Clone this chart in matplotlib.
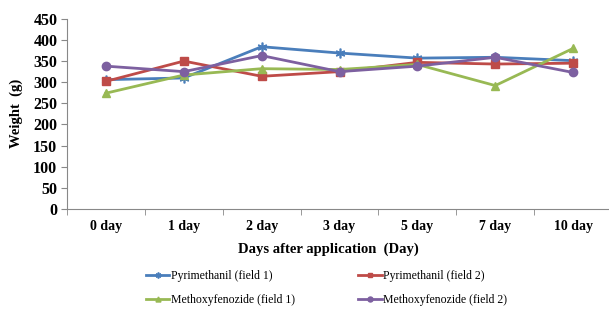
import matplotlib
matplotlib.use("Agg")
import matplotlib.pyplot as plt
import numpy as np

days = ["0 day", "1 day", "2 day", "3 day", "5 day", "7 day", "10 day"]
pyr_f1 = [306, 310, 384, 369, 357, 359, 351]
pyr_f2 = [302, 350, 314, 325, 347, 343, 345]
met_f1 = [274, 317, 332, 330, 342, 292, 380]
met_f2 = [338, 325, 363, 325, 338, 359, 323]
yticks = list(range(0, 451, 50))

plt.rcParams['font.family'] = ['Liberation Serif', 'DejaVu Serif']

fig = plt.figure(figsize=(6.09, 3.09), dpi=100)
ax = fig.add_axes([0.110, 0.324, 0.895, 0.615])
x = np.arange(len(days))

h1, = ax.plot(x, pyr_f1, color='#4A7EBB', lw=2, marker=(6, 2, 0), ms=7, mew=1.2,
              label='Pyrimethanil (field 1)')
h2, = ax.plot(x, pyr_f2, color='#BE4B48', lw=2, marker='s', ms=6,
              label='Pyrimethanil (field 2)')
h3, = ax.plot(x, met_f1, color='#98B954', lw=2, marker='^', ms=6,
              label='Methoxyfenozide (field 1)')
h4, = ax.plot(x, met_f2, color='#7D60A0', lw=2, marker='o', ms=6,
              label='Methoxyfenozide (field 2)')

ax.set_xlim(-0.5, len(days) - 0.5)
ax.set_ylim(0, 450)
ax.set_yticks(yticks)
ax.set_xticks(x)
ax.set_xticklabels(days, fontweight='bold', fontsize=10)
ax.set_xticks(np.arange(-0.5, len(days)), minor=True)
ax.tick_params(axis='x', which='major', length=0, pad=8)
ax.tick_params(axis='x', which='minor', length=4, color='#888888')
ax.tick_params(axis='y', length=4, color='#888888', labelsize=11.5, pad=3)
for lbl in ax.get_yticklabels():
    lbl.set_fontweight('bold')

for s in ['top', 'right']:
    ax.spines[s].set_visible(False)
for s in ['left', 'bottom']:
    ax.spines[s].set_color('#888888')

ax.set_ylabel('Weight  (g)', fontweight='bold', fontsize=10.5, labelpad=7)
ax.set_xlabel('Days after application  (Day)', fontweight='bold', fontsize=10.5, labelpad=5)
ax.xaxis.set_label_coords(0.48, -0.175)

handles = [h1, h3, h2, h4]
fig.legend(handles=handles, labels=[h.get_label() for h in handles],
           loc='upper center', bbox_to_anchor=(0.536, 0.16), ncol=2, frameon=False,
           fontsize=8.5, handlelength=2.0, columnspacing=5.4, handletextpad=0.1,
           labelspacing=1.0, markerscale=0.6)

fig.savefig('out.png', dpi=100)
